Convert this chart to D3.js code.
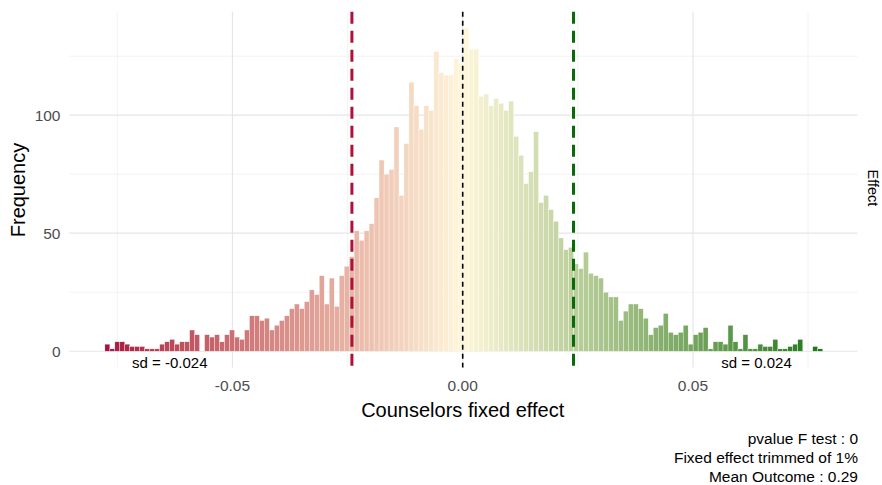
<!DOCTYPE html>
<html><head><meta charset="utf-8">
<script src="https://cdn.jsdelivr.net/npm/d3@7"></script>
<style>body{margin:0;background:#fff;} text{font-family:"Liberation Sans",Arial,sans-serif;}</style>
</head><body><svg id="c" width="882" height="485"></svg>
<script>
// ---- data ----
const binStart = -0.0777;
const binWidth = 0.0010825;
const counts = [
  3,1,4,4,3,2,2,2,1,1,1,3,4,5,3,4,4,9,7,0,7,6,7,4,7,9,
  6,5,9,15,15,13,14,9,11,13,15,18,20,18,21,26,24,32,20,31,19,32,36,40,
  51,47,51,54,65,81,75,77,95,66,
  88,114,104,94,104,102,127,118,117,117,124,122,137,
  128,128,108,109,104,107,105,102,106,91,83,71,
  76,93,63,66,60,55,48,43,44,37,35,42,33,
  32,31,25,23,23,13,17,20,20,18,14,7,10,11,16,8,7,8,11,3,7,8,10,
  1,4,4,3,11,4,1,7,1,1,3,2,2,5,1,1,2,3,5,0,0,2,1];
const xTicks = [-0.05, 0, 0.05];
const xTickLabels = ["-0.05", "0.00", "0.05"];
const xMinor = [-0.075, -0.025, 0.025, 0.075];
const yTicks = [0, 50, 100];
const yMinor = [25, 75, 125];
const sdValue = 0.02406;
const sdLabels = ["sd = -0.024", "sd = 0.024"];
const sdLabelX = [-0.0636, 0.0638];
const captionLines = ["pvalue F test : 0", "Fixed effect trimmed of 1%", "Mean Outcome : 0.29"];
const fillLow = "#a50f40", fillMid = "#fff7da", fillHigh = "#187818";

// ---- chart ----
const svg = d3.select("#c");
const x = d3.scaleLinear().domain([-0.08545, 0.08573]).range([69.2, 857.5]);
const y = d3.scaleLinear().domain([-6.85, 143.85]).range([367.4, 11.7]);
const bins = counts.map((c, i) => ({x0: binStart + i * binWidth, x1: binStart + (i + 1) * binWidth, n: c}));
const maxAbs = d3.max(bins, d => Math.abs((d.x0 + d.x1) / 2));
const color = d3.scaleLinear().domain([-maxAbs, 0, maxAbs]).range([fillLow, fillMid, fillHigh]).interpolate(d3.interpolateLab);
const [px0, px1] = x.range(), [py0, py1] = y.range();

const g = svg.append("g");
// grid
g.selectAll(".ymin").data(yMinor).join("line").attr("x1", px0).attr("x2", px1)
  .attr("y1", d => y(d)).attr("y2", d => y(d)).attr("stroke", "#ebebeb").attr("stroke-width", 0.6);
g.selectAll(".xmin").data(xMinor).join("line").attr("y1", py1).attr("y2", py0)
  .attr("x1", d => x(d)).attr("x2", d => x(d)).attr("stroke", "#ebebeb").attr("stroke-width", 0.6);
g.selectAll(".ymaj").data(yTicks).join("line").attr("x1", px0).attr("x2", px1)
  .attr("y1", d => y(d)).attr("y2", d => y(d)).attr("stroke", "#e6e6e6").attr("stroke-width", 1.2);
g.selectAll(".xmaj").data(xTicks).join("line").attr("y1", py1).attr("y2", py0)
  .attr("x1", d => x(d)).attr("x2", d => x(d)).attr("stroke", "#e6e6e6").attr("stroke-width", 1.2);

// bars
g.selectAll(".bar").data(bins).join("rect")
  .attr("x", d => x(d.x0)).attr("width", d => x(d.x1) - x(d.x0))
  .attr("y", d => y(d.n)).attr("height", d => y(0) - y(d.n))
  .attr("fill", d => color((d.x0 + d.x1) / 2))
  .attr("stroke", "#ffffff").attr("stroke-width", 0.35);

// reference lines
g.append("line").attr("x1", x(-sdValue)).attr("x2", x(-sdValue)).attr("y1", py1).attr("y2", py0)
  .attr("stroke", "#b0103a").attr("stroke-width", 3).attr("stroke-dasharray", "12,7");
g.append("line").attr("x1", x(sdValue)).attr("x2", x(sdValue)).attr("y1", py1).attr("y2", py0)
  .attr("stroke", "#0a6a0a").attr("stroke-width", 3).attr("stroke-dasharray", "12,7");
g.append("line").attr("x1", x(0)).attr("x2", x(0)).attr("y1", py1).attr("y2", py0)
  .attr("stroke", "#000").attr("stroke-width", 1.6).attr("stroke-dasharray", "5,4");

// sd labels
g.selectAll(".sdl").data(sdLabels).join("text")
  .attr("x", (d, i) => x(sdLabelX[i])).attr("y", 368).attr("text-anchor", "middle")
  .attr("font-size", 15).attr("fill", "#000").text(d => d);

// axes labels
g.selectAll(".xt").data(xTicks).join("text").attr("x", d => x(d)).attr("y", 391)
  .attr("text-anchor", "middle").attr("font-size", 15.5).attr("fill", "#4d4d4d")
  .text((d, i) => xTickLabels[i]);
g.selectAll(".yt").data(yTicks).join("text").attr("x", 60.5).attr("y", d => y(d) + 5.5)
  .attr("text-anchor", "end").attr("font-size", 15.5).attr("fill", "#4d4d4d").text(d => d);

svg.append("text").attr("x", x(0)).attr("y", 417).attr("text-anchor", "middle")
  .attr("font-size", 20).attr("fill", "#000").text("Counselors fixed effect");
svg.append("text").attr("transform", "translate(25,190) rotate(-90)").attr("text-anchor", "middle")
  .attr("font-size", 20).attr("fill", "#000").text("Frequency");
svg.append("text").attr("transform", "translate(868,188) rotate(90)").attr("text-anchor", "middle")
  .attr("font-size", 14.5).attr("fill", "#000").text("Effect");

svg.selectAll(".cap").data(captionLines).join("text")
  .attr("x", 858).attr("y", (d, i) => 443.5 + i * 19).attr("text-anchor", "end")
  .attr("font-size", 15.5).attr("fill", "#000").text(d => d);
</script></body></html>
